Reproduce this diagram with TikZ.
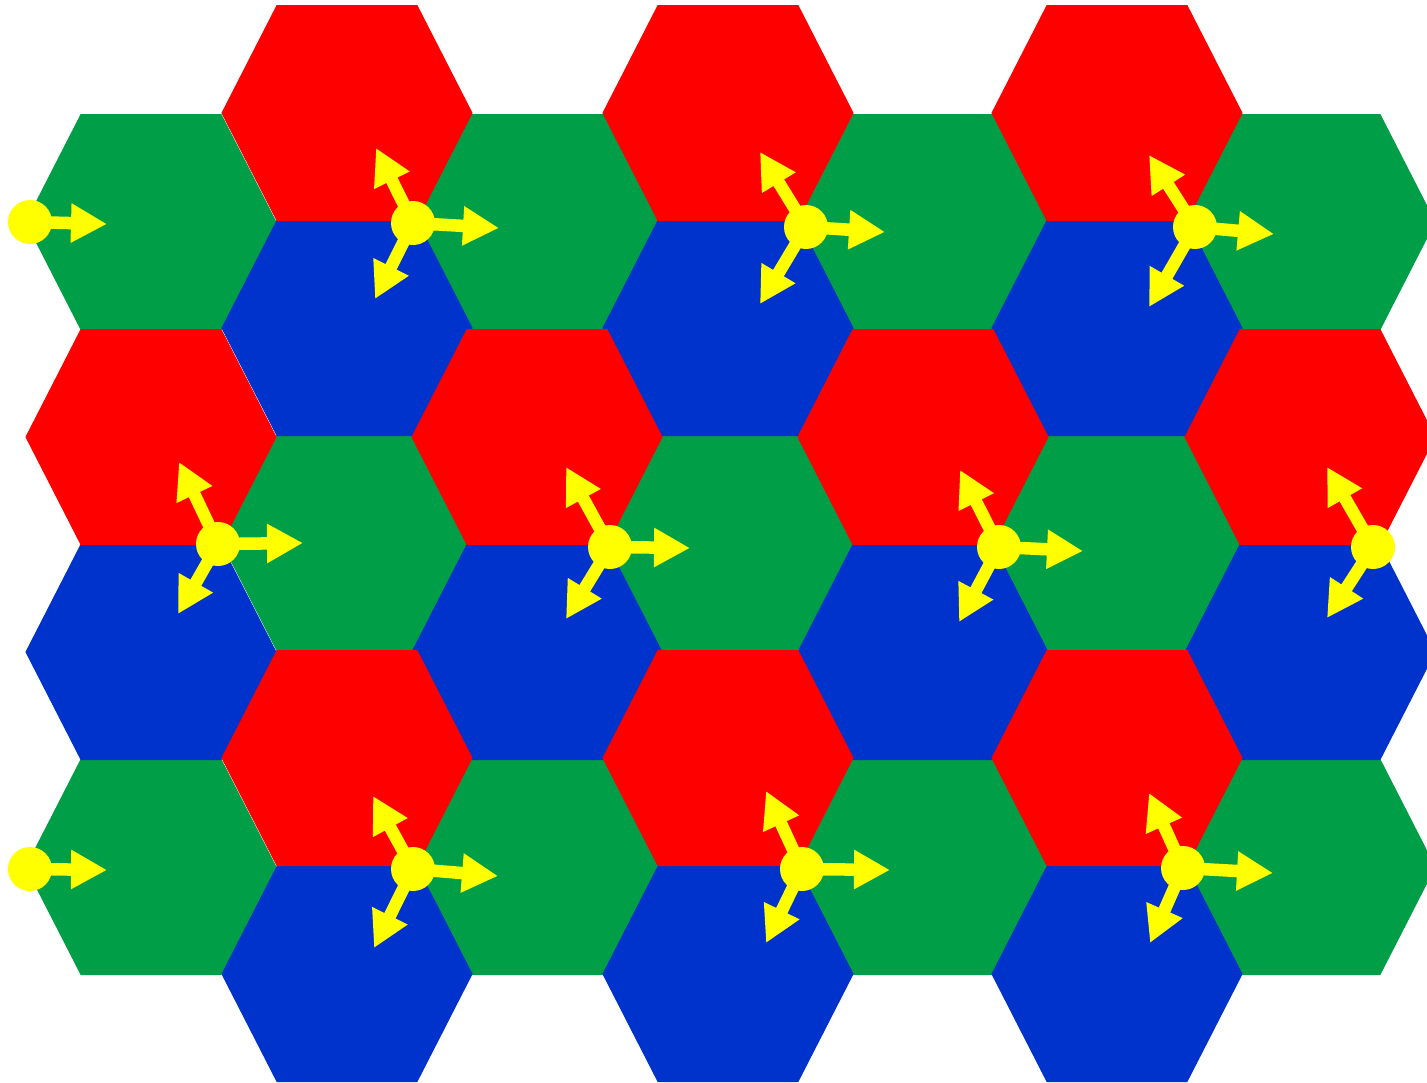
\documentclass[tikz,border=0pt]{standalone}
\usetikzlibrary{arrows.meta}
\definecolor{hexred}{RGB}{255,0,0}
\definecolor{hexgreen}{RGB}{0,158,71}
\definecolor{hexblue}{RGB}{0,51,204}
\definecolor{dotyellow}{RGB}{255,255,0}
\newcommand\hexcell[3]{%
  \filldraw[fill=#3,draw=#3,line width=1pt,line join=miter] (#1-70,#2-107.5) -- (#1+70,#2-107.5) -- (#1+125,#2) -- (#1+70,#2+107.5) -- (#1-70,#2+107.5) -- (#1-125,#2) -- cycle;}
\begin{document}
\begin{tikzpicture}[x=1pt,y=-1pt,
  ydot/.style={circle,fill=dotyellow,draw=none,minimum size=44pt,inner sep=0pt},
  yarrow/.style={draw=dotyellow,line width=12.5pt,-{Triangle[length=36pt,width=37pt]}}]
\useasboundingbox (0,0) rectangle (1427,1082);
\clip (0,0) rectangle (1427,1082);
% green cells
\foreach \cx in {151,537,923,1310}{\hexcell{\cx}{222}{hexgreen}\hexcell{\cx}{867}{hexgreen}}
\foreach \cx in {347,728,1117}{\hexcell{\cx}{543}{hexgreen}}
% blue cells
\foreach \cx in {151,537,923,1310}{\hexcell{\cx}{652}{hexblue}}
\foreach \cx in {347,728,1117}{\hexcell{\cx}{328}{hexblue}\hexcell{\cx}{974}{hexblue}}
% red cells
\foreach \cx in {151,537,923,1310}{\hexcell{\cx}{437}{hexred}}
\foreach \cx in {347,728,1117}{\hexcell{\cx}{113}{hexred}\hexcell{\cx}{758}{hexred}}
% dot centres
\coordinate (D1) at (30,222);
\coordinate (D2) at (413,223);
\coordinate (D3) at (806,227);
\coordinate (D4) at (1195,227);
\coordinate (D5) at (218,544);
\coordinate (D6) at (610,547);
\coordinate (D7) at (999,547);
\coordinate (D8) at (1373,547);
\coordinate (D9) at (30,869);
\coordinate (D10) at (413,869);
\coordinate (D11) at (802,869);
\coordinate (D12) at (1183,868);
% arrow tips
\coordinate (D1r) at (107,224);
\coordinate (D2r) at (499,228); \coordinate (D2u) at (376,148); \coordinate (D2d) at (375,299);
\coordinate (D3r) at (885,232); \coordinate (D3u) at (760,152); \coordinate (D3d) at (760,304);
\coordinate (D4r) at (1274,234); \coordinate (D4u) at (1149,155); \coordinate (D4d) at (1149,307);
\coordinate (D5r) at (303,543); \coordinate (D5u) at (179,462); \coordinate (D5d) at (178,614);
\coordinate (D6r) at (690,548); \coordinate (D6u) at (566,467); \coordinate (D6d) at (566,619);
\coordinate (D7r) at (1083,551); \coordinate (D7u) at (960,470); \coordinate (D7d) at (959,622);
\coordinate (D8u) at (1327,467); \coordinate (D8d) at (1327,618);
\coordinate (D9r) at (107,870);
\coordinate (D10r) at (498,876); \coordinate (D10u) at (373,796); \coordinate (D10d) at (374,948);
\coordinate (D11r) at (890,870); \coordinate (D11u) at (766,791); \coordinate (D11d) at (766,943);
\coordinate (D12r) at (1273,873); \coordinate (D12u) at (1149,793); \coordinate (D12d) at (1150,943);
% arrows
\draw[yarrow] (D1) -- (D1r);
\draw[yarrow] (D9) -- (D9r);
\foreach \n in {2,3,4,5,6,7,10,11,12}{
  \draw[yarrow] (D\n) -- (D\n r);
  \draw[yarrow] (D\n) -- (D\n u);
  \draw[yarrow] (D\n) -- (D\n d);
}
\draw[yarrow] (D8) -- (D8u);
\draw[yarrow] (D8) -- (D8d);
% dots
\foreach \n in {1,...,12}{\node[ydot] (dot\n) at (D\n) {};}
\end{tikzpicture}
\end{document}
